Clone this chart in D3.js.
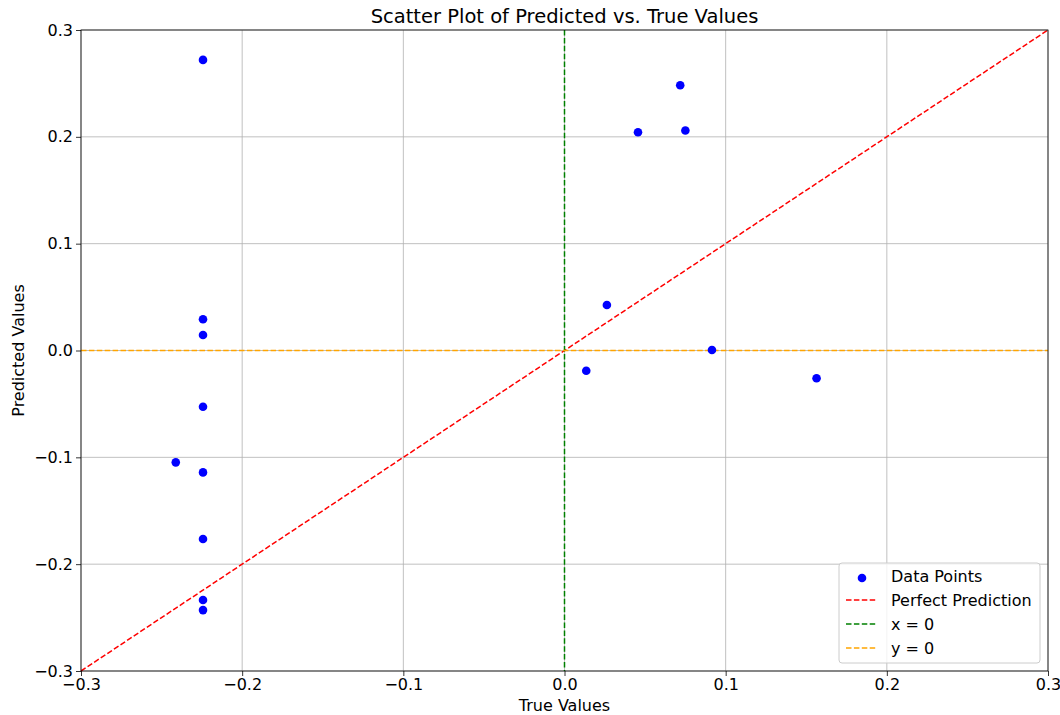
<!DOCTYPE html>
<html>
<head>
<meta charset="utf-8">
<script src="https://cdn.jsdelivr.net/npm/d3@7"></script>
<style>
  body { margin: 0; background: #fff; }
  svg { display: block; font-family: "DejaVu Sans", sans-serif; }
</style>
</head>
<body>
<div id="chart"></div>
<script>
// data
var trueVals = [-0.2243, -0.2243, -0.2243, -0.2243, -0.2412, -0.2243, -0.2243, -0.2243, -0.2243,
                0.0718, 0.0456, 0.0750, 0.0263, 0.0135, 0.0915, 0.1564];
var predVals = [0.272, 0.0292, 0.0145, -0.0526, -0.1047, -0.1141, -0.1765, -0.2336, -0.243,
                0.2483, 0.2043, 0.2059, 0.0426, -0.0190, 0.0005, -0.0260];
var xTicks = [-0.3, -0.2, -0.1, 0.0, 0.1, 0.2, 0.3];
var yTicks = [-0.3, -0.2, -0.1, 0.0, 0.1, 0.2, 0.3];
var legendItems = ['Data Points', 'Perfect Prediction', 'x = 0', 'y = 0'];
var legendColors = ['blue', 'red', 'green', 'orange'];

var W = 1060, H = 715;
var margin = {top: 30, right: 12, bottom: 44, left: 81};
var width = W - margin.left - margin.right,
    height = H - margin.top - margin.bottom;

var svg = d3.select('#chart').append('svg')
    .attr('width', W).attr('height', H);
var g = svg.append('g')
    .attr('transform', 'translate(' + margin.left + ',' + margin.top + ')');

var x = d3.scaleLinear().domain([-0.3, 0.3]).range([0, width]);
var y = d3.scaleLinear().domain([-0.3, 0.3]).range([height, 0]);

// minus sign like matplotlib
var fmt = function(d) { return d3.format('.1f')(d).replace('-', '\u2212'); };

// grid
g.append('g').selectAll('line').data(xTicks).enter().append('line')
    .attr('x1', function(d) { return x(d); }).attr('x2', function(d) { return x(d); })
    .attr('y1', 0).attr('y2', height)
    .attr('stroke', '#b0b0b0').attr('stroke-width', 0.8);
g.append('g').selectAll('line').data(yTicks).enter().append('line')
    .attr('y1', function(d) { return y(d); }).attr('y2', function(d) { return y(d); })
    .attr('x1', 0).attr('x2', width)
    .attr('stroke', '#b0b0b0').attr('stroke-width', 0.8);

// reference lines
var dash = '5.5,2.4';
g.append('line')
    .attr('x1', x(-0.3)).attr('y1', y(-0.3)).attr('x2', x(0.3)).attr('y2', y(0.3))
    .attr('stroke', 'red').attr('stroke-width', 1.5).attr('stroke-dasharray', dash);
g.append('line')
    .attr('x1', x(0)).attr('x2', x(0)).attr('y1', 0).attr('y2', height)
    .attr('stroke', 'green').attr('stroke-width', 1.5).attr('stroke-dasharray', dash);
g.append('line')
    .attr('x1', 0).attr('x2', width).attr('y1', y(0)).attr('y2', y(0))
    .attr('stroke', 'orange').attr('stroke-width', 1.5).attr('stroke-dasharray', dash);

// points
g.append('g').selectAll('circle')
    .data(trueVals.map(function(t, i) { return {t: t, p: predVals[i]}; }))
    .enter().append('circle')
    .attr('cx', function(d) { return x(d.t); })
    .attr('cy', function(d) { return y(d.p); })
    .attr('r', 4.3)
    .attr('fill', 'blue');

// axes
var xAxis = d3.axisBottom(x).tickValues(xTicks).tickFormat(fmt).tickSize(5).tickPadding(3);
var yAxis = d3.axisLeft(y).tickValues(yTicks).tickFormat(fmt).tickSize(5).tickPadding(3);
var xg = g.append('g').attr('transform', 'translate(0,' + height + ')').call(xAxis);
var yg = g.append('g').call(yAxis);
[xg, yg].forEach(function(a) {
    a.selectAll('text').attr('font-size', 16).attr('fill', '#000').attr('font-family', 'DejaVu Sans');
    a.selectAll('line').attr('stroke', '#000').attr('stroke-width', 0.8);
    a.select('.domain').remove();
});

// frame
g.append('rect').attr('width', width).attr('height', height)
    .attr('fill', 'none').attr('stroke', '#000').attr('stroke-width', 0.8);

// title & labels
svg.append('text').attr('x', margin.left + width / 2).attr('y', 23)
    .attr('text-anchor', 'middle').attr('font-size', 19.5).text('Scatter Plot of Predicted vs. True Values');
svg.append('text').attr('x', margin.left + width / 2).attr('y', 711)
    .attr('text-anchor', 'middle').attr('font-size', 16).text('True Values');
svg.append('text').attr('transform', 'translate(24,' + (margin.top + height / 2) + ') rotate(-90)')
    .attr('text-anchor', 'middle').attr('font-size', 16).text('Predicted Values');

// legend
var lg = svg.append('g').attr('transform', 'translate(839,563)');
lg.append('rect').attr('width', 201).attr('height', 100).attr('rx', 3)
    .attr('fill', 'white').attr('fill-opacity', 0.8)
    .attr('stroke', '#cccccc').attr('stroke-width', 1);
legendItems.forEach(function(name, i) {
    var yy = 13 + i * 24;
    if (i === 0) {
        lg.append('circle').attr('cx', 23).attr('cy', yy + 2).attr('r', 4.3).attr('fill', legendColors[i]);
    } else {
        lg.append('line').attr('x1', 7).attr('x2', 37).attr('y1', yy).attr('y2', yy)
            .attr('stroke', legendColors[i]).attr('stroke-width', 1.5).attr('stroke-dasharray', dash);
    }
    lg.append('text').attr('x', 52).attr('y', yy + 6).attr('font-size', 16).text(name);
});
</script>
</body>
</html>
